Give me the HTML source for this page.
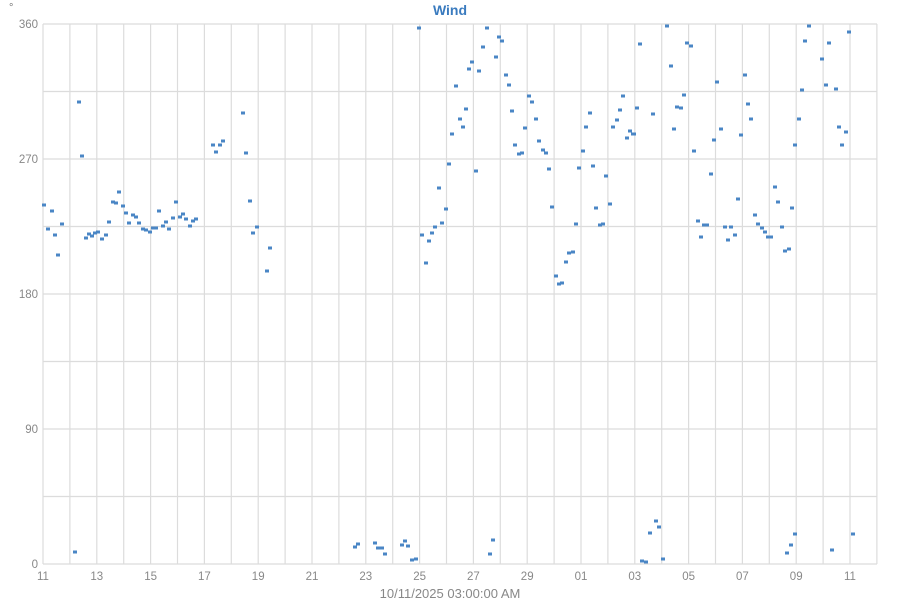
<!DOCTYPE html>
<html><head><meta charset="utf-8"><style>
body{margin:0;background:#fff;}
svg{display:block;font-family:"Liberation Sans",sans-serif;}
</style></head><body>
<svg width="900" height="600" xmlns="http://www.w3.org/2000/svg">
<rect width="900" height="600" fill="#fff"/>
<g id="grid" stroke="#dcdcdc" stroke-width="1.2"></g>
<text x="450" y="15" text-anchor="middle" font-size="14" font-weight="bold" fill="#3a7bbf">Wind</text>
<text x="9" y="11" font-size="11" fill="#777">°</text>
<g font-size="11.5" fill="#888" text-anchor="end">
<text x="38" y="28">360</text><text x="38" y="163">270</text><text x="38" y="298">180</text><text x="38" y="433">90</text><text x="38" y="568">0</text>
</g>
<g id="xl" font-size="11.5" fill="#888" text-anchor="middle"></g>
<text x="450" y="598" text-anchor="middle" font-size="13" fill="#888">10/11/2025 03:00:00 AM</text>
<g id="pts" fill="#4a86c5"></g>
</svg>
<script>
var g=document.getElementById('grid'),ns='http://www.w3.org/2000/svg';
function L(x1,y1,x2,y2){var l=document.createElementNS(ns,'line');l.setAttribute('x1',x1);l.setAttribute('y1',y1);l.setAttribute('x2',x2);l.setAttribute('y2',y2);g.appendChild(l);}
for(var i=0;i<=8;i++){var y=24+i*67.5;L(43,y,877,y);}
for(var d=0;d<=31;d++){var x=43+d*26.9;L(x,24,x,564);}
var labs=['11','13','15','17','19','21','23','25','27','29','01','03','05','07','09','11'];
var offs=[0,2,4,6,8,10,12,14,16,18,20,22,24,26,28,30];
var xl=document.getElementById('xl');
for(var i=0;i<labs.length;i++){var t=document.createElementNS(ns,'text');t.setAttribute('x',43+offs[i]*26.9);t.setAttribute('y',580);t.textContent=labs[i];xl.appendChild(t);}
var P=[[44,205],[48,229],[52,211],[55,235],[58,255],[62,224],[75,552],[79,102],[82,156],[86,238],[89,234],[92,236],[95,233],[98,232],[102,239],[106,235],[109,222],[113,202],[116,203],[119,192],[123,206],[126,213],[129,223],[133,215],[136,217],[139,223],[143,229],[146,230],[150,232],[153,228],[156,228],[159,211],[163,226],[166,222],[169,229],[173,218],[176,202],[180,217],[183,214],[186,219],[190,226],[193,221],[196,219],
[213,145],[216,152],[220,145],[223,141],[243,113],[246,153],[250,201],[253,233],[257,227],[267,271],[270,248],
[355,547],[358,544],[375,543],[378,548],[382,548],[385,554],[402,545],[405,541],[408,546],[412,560],[416,559],
[419,28],[422,235],[426,263],[429,241],[432,233],[435,227],[439,188],[442,223],[446,209],[449,164],[452,134],[456,86],[460,119],[463,127],[466,109],[469,69],[472,62],[476,171],[479,71],[483,47],[487,28],[490,554],[493,540],[496,57],[499,37],[502,41],[506,75],[509,85],[512,111],[515,145],[519,154],[522,153],[525,128],[529,96],[532,102],[536,119],[539,141],[543,150],[546,153],[549,169],[552,207],[556,276],[559,284],[562,283],[566,262],[569,253],[573,252],[576,224],[579,168],[583,151],[586,127],[590,113],[593,166],[596,208],[600,225],[603,224],[606,176],[610,204],[613,127],[617,120],[620,110],[623,96],[627,138],[630,131],[634,134],[637,108],[640,44],
[667,26],[687,43],[691,46],[671,66],[745,75],[717,82],[684,95],[677,107],[681,108],[653,114],[748,104],[751,119],[633,134],[674,129],[721,129],[714,140],[741,135],[694,151],[711,174],[775,187],[778,202],[792,208],[738,199],[755,215],[698,221],[704,225],[707,225],[725,227],[731,227],[758,224],[762,228],[765,232],[701,237],[735,235],[728,240],[768,237],[771,237],[782,227],[785,251],[789,249],[809,26],[805,41],[849,32],[829,43],[822,59],[826,85],[802,90],[836,89],[799,119],[839,127],[846,132],[795,145],[842,145],
[642,561],[646,562],[650,533],[656,521],[659,527],[663,559],[787,553],[791,545],[795,534],[832,550],[853,534]];
var pg=document.getElementById('pts');
P.forEach(function(p){var r=document.createElementNS(ns,'rect');r.setAttribute('x',p[0]-2);r.setAttribute('y',p[1]-1.5);r.setAttribute('width',4);r.setAttribute('height',3);pg.appendChild(r);});
</script>
</body></html>
